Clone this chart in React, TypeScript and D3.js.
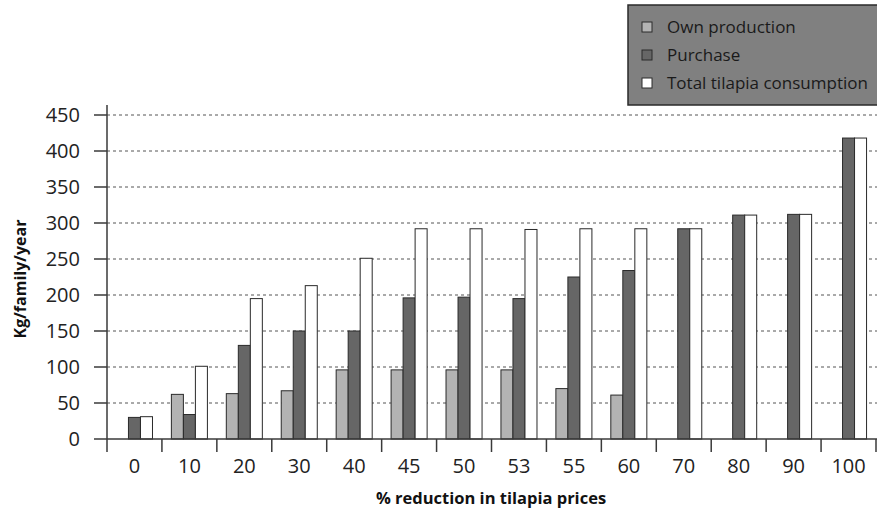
import React from "react";
import * as d3 from "d3";

const categories = ["0", "10", "20", "30", "40", "45", "50", "53", "55", "60", "70", "80", "90", "100"];
const ownProduction = [0, 62, 63, 67, 96, 96, 96, 96, 70, 61, 0, 0, 0, 0];
const purchase = [30, 34, 130, 150, 150, 196, 197, 195, 225, 234, 292, 311, 312, 418];
const totalConsumption = [31, 101, 195, 213, 251, 292, 292, 291, 292, 292, 292, 311, 312, 418];
const seriesNames = ["Own production", "Purchase", "Total tilapia consumption"];
const seriesColors = ["#b3b3b3", "#666666", "#ffffff"];
const yTicks = [0, 50, 100, 150, 200, 250, 300, 350, 400, 450];

const W = 877;
const H = 511;
const FONT = "'Open Sans', 'Noto Sans', sans-serif";

export default function App() {
  const x0 = d3.scaleBand<string>().domain(categories).range([107, 876]).padding(0);
  const bw = x0.bandwidth();
  const pad = bw * 0.172;
  const x1 = d3.scaleBand<string>().domain(seriesNames).range([pad, bw - pad]).padding(0);
  const y = d3.scaleLinear().domain([0, 450]).range([439, 115]);
  const values = [ownProduction, purchase, totalConsumption];
  const axisColor = "#3a3a3a";

  return (
    <svg width={W} height={H} style={{ position: "absolute", left: 0, top: 0, background: "#fff" }}>
      {/* gridlines */}
      {yTicks.filter((t) => t > 0).map((t) => (
        <line key={"g" + t} x1={107} x2={W} y1={y(t)} y2={y(t)} stroke="#555" strokeWidth={1} strokeDasharray="3,3" />
      ))}
      {/* bars */}
      {categories.map((c, i) => (
        <g key={c} transform={`translate(${x0(c)},0)`}>
          {seriesNames.map((s, j) => {
            const v = values[j][i];
            if (!v) return null;
            return (
              <rect
                key={s}
                x={x1(s)!}
                y={y(v)}
                width={x1.bandwidth()}
                height={y(0) - y(v)}
                fill={seriesColors[j]}
                stroke="#2a2a2a"
                strokeWidth={1}
              />
            );
          })}
        </g>
      ))}
      {/* y axis */}
      <line x1={107} x2={107} y1={105} y2={439} stroke={axisColor} strokeWidth={1.5} />
      {yTicks.map((t) => (
        <g key={"y" + t}>
          <line x1={94} x2={107} y1={y(t)} y2={y(t)} stroke={axisColor} strokeWidth={1.5} />
          <text x={80} y={y(t)} dy="0.35em" textAnchor="end" fontFamily={FONT} fontSize={20} fill="#222">
            {t}
          </text>
        </g>
      ))}
      {/* x axis */}
      <line x1={107} x2={W} y1={439} y2={439} stroke={axisColor} strokeWidth={1.5} />
      {categories.map((c) => (
        <line key={"t" + c} x1={x0(c)!} x2={x0(c)!} y1={439} y2={452} stroke={axisColor} strokeWidth={1.5} />
      ))}
      <line x1={876} x2={876} y1={439} y2={452} stroke={axisColor} strokeWidth={1.5} />
      {categories.map((c) => (
        <text key={"l" + c} x={x0(c)! + bw / 2} y={466} dy="0.35em" textAnchor="middle" fontFamily={FONT} fontSize={20} fill="#222">
          {c}
        </text>
      ))}
      {/* axis titles */}
      <text x={491} y={498} dy="0.35em" textAnchor="middle" fontFamily={FONT} fontSize={16.5} fontWeight="bold" fill="#111">
        % reduction in tilapia prices
      </text>
      <text
        transform="translate(20,279) rotate(-90)"
        dy="0.35em"
        textAnchor="middle"
        fontFamily={FONT}
        fontSize={16}
        fontWeight="bold"
        fill="#111"
      >
        Kg/family/year
      </text>
      {/* legend */}
      <rect x={628} y={5} width={260} height={100} fill="#808080" stroke="#2a2a2a" strokeWidth={1.5} />
      {seriesNames.map((s, j) => (
        <g key={"lg" + s} transform={`translate(642,${27 + j * 28})`}>
          <rect x={0} y={-5} width={10} height={10} fill={seriesColors[j]} stroke="#2a2a2a" strokeWidth={1} />
          <text x={25} y={0} dy="0.35em" fontFamily={FONT} fontSize={17} fill="#1a1a1a">
            {s}
          </text>
        </g>
      ))}
    </svg>
  );
}
